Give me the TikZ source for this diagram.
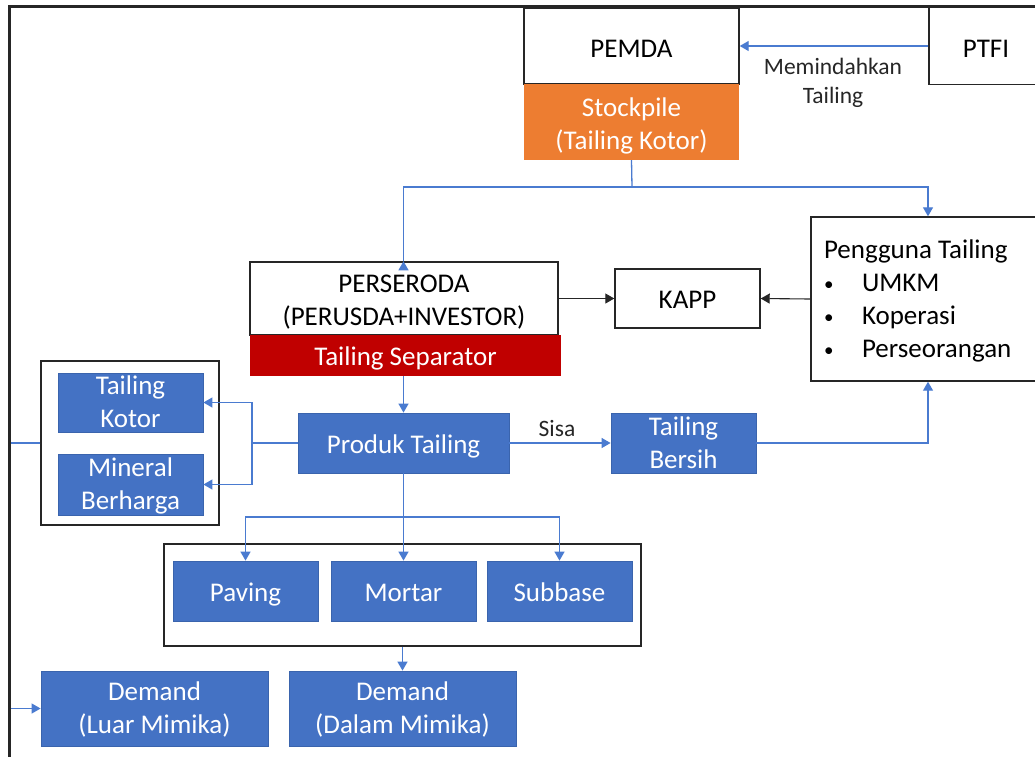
\documentclass[tikz,border=0pt]{standalone}
\usepackage{fontspec}
\setmainfont{Carlito}
\usetikzlibrary{arrows.meta}
\definecolor{boxblue}{HTML}{4472C4}
\definecolor{boxblueedge}{HTML}{3A64AD}
\definecolor{linkblue}{HTML}{4A7BD0}
\definecolor{pileorange}{HTML}{ED7D31}
\definecolor{seprred}{HTML}{C00000}
\definecolor{edgegray}{HTML}{262626}
% box text: lines stacked in a tabular, set at a fixed drop below the box centre
% and taking no height of its own, so the box keeps its size
\newcommand{\ctext}[2][10pt]{\smash{\raisebox{-#1}{\begin{tabular}{@{}c@{}}#2\end{tabular}}}}
\newcommand{\ltext}[2][9pt]{\smash{\raisebox{-#1}{\begin{tabular}{@{}l@{}}#2\end{tabular}}}}
\tikzset{
  base/.style={rectangle, inner sep=0pt, font=\fontsize{27}{33}\selectfont},
  whitebox/.style={base, draw=edgegray, line width=1.4pt, fill=white, text=black},
  bluebox/.style={base, draw=boxblueedge, line width=0.8pt, fill=boxblue, text=white},
  groupbox/.style={rectangle, draw=edgegray, line width=1.4pt, inner sep=0pt},
  link/.style={draw=linkblue, line width=1.3pt, -{Triangle[length=9pt,width=10pt]}},
  plainlink/.style={draw=linkblue, line width=1.3pt},
  blacklink/.style={draw=edgegray, line width=1.1pt, -{Triangle[length=9pt,width=10pt]}},
  note/.style={align=center, font=\fontsize{23.5}{29}\selectfont, text=black!85}
}
\newcommand{\bulletitem}[1]{\makebox[38pt][l]{\raisebox{1pt}{\fontsize{19}{19}\selectfont\textbullet}}#1}
\begin{document}
\begin{tikzpicture}[x=1pt, y=-1pt]
\useasboundingbox (0,0) rectangle (1035,756);

% upper row: government, mine operator and the stockpile
\node[whitebox, minimum width=215pt, minimum height=76pt] (pemda) at (631.5,46) {\ctext[11pt]{PEMDA}};
\node[base, fill=pileorange, text=white, minimum width=215pt, minimum height=76pt] (stockpile) at (631.5,122) {\ctext[11pt]{Stockpile\\(Tailing Kotor)}};
\node[whitebox, minimum width=114pt, minimum height=77pt] (ptfi) at (986,46) {\ctext[11pt]{PTFI}};
\node[note] (movelabel) at (833,83) {Memindahkan\\Tailing};

% processing company with its separator
\node[whitebox, minimum width=308pt, minimum height=73pt] (perseroda) at (404,298.5) {\ctext{PERSERODA\\(PERUSDA+INVESTOR)}};
\node[base, fill=seprred, text=white, minimum width=311pt, minimum height=41pt] (separator) at (405.5,355.5) {\ctext{Tailing Separator}};
\node[whitebox, minimum width=145pt, minimum height=59pt] (kapp) at (687.5,298.5) {\ctext{KAPP}};
\node[whitebox, minimum width=234pt, minimum height=164pt] (pengguna) at (928,299)
  {\makebox[208pt][l]{\ltext{Pengguna Tailing\\\bulletitem{UMKM}\\\bulletitem{Koperasi}\\\bulletitem{Perseorangan}}}};

% products
\node[bluebox, minimum width=211pt, minimum height=60pt] (produk) at (403.5,443) {\ctext{Produk Tailing}};
\node[bluebox, minimum width=145pt, minimum height=60pt] (bersih) at (683.5,443) {\ctext[9pt]{Tailing\\Bersih}};
\node[note] (sisa) at (557,428) {Sisa};

\node[groupbox, minimum width=178pt, minimum height=164pt] (sidegroup) at (130,443) {};
\node[bluebox, minimum width=145pt, minimum height=59pt] (kotor) at (130.5,402.5) {\ctext[8.5pt]{Tailing\\Kotor}};
\node[bluebox, minimum width=145pt, minimum height=61pt] (mineral) at (130.5,484.5) {\ctext[8.5pt]{Mineral\\Berharga}};

\node[groupbox, minimum width=477pt, minimum height=102pt] (usegroup) at (402.5,595) {};
\node[bluebox, minimum width=145pt, minimum height=60pt] (paving) at (245.5,591) {\ctext{Paving}};
\node[bluebox, minimum width=145pt, minimum height=60pt] (mortar) at (403.5,591) {\ctext{Mortar}};
\node[bluebox, minimum width=145pt, minimum height=60pt] (subbase) at (559.5,591) {\ctext{Subbase}};

\node[bluebox, minimum width=227pt, minimum height=75pt] (luar) at (154.5,708.5) {\ctext[8pt]{Demand\\(Luar Mimika)}};
\node[bluebox, minimum width=227pt, minimum height=75pt] (dalam) at (402.5,708.5) {\ctext[8pt]{Demand\\(Dalam Mimika)}};

% junction points
\coordinate (split) at (632,187);
\coordinate (sidefork) at (252,443);
\coordinate (usefork) at (403.5,517);
\coordinate (edgedrop) at (10,443);

% connectors
\draw[link] (ptfi.west) -- (pemda.east);
\draw[plainlink] (stockpile.south) -- (split);
\draw[link] (split) -| (perseroda.north -| 403.5,0) -- (perseroda.north -| 403.5,0);
\draw[link] (split) -| (pengguna.north);
\draw[blacklink] (perseroda.east) -- (kapp.west);
\draw[blacklink] (pengguna.west) -- (kapp.east);
\draw[link] (separator.south -| produk.north) -- (produk.north);
\draw[plainlink] (produk.west) -- (sidefork);
\draw[link] (sidefork) |- (kotor.east);
\draw[link] (sidefork) |- (mineral.east);
\draw[link] (produk.east) -- (bersih.west);
\draw[link] (bersih.east) -| (pengguna.south);
\draw[plainlink] (produk.south) -- (usefork);
\draw[link] (usefork) -| (paving.north);
\draw[link] (usefork) -- (mortar.north);
\draw[link] (usefork) -| (subbase.north);
\draw[link] (usegroup.south -| dalam.north) -- (dalam.north);
\draw[plainlink] (sidegroup.west) -- (edgedrop);
\draw[link] (edgedrop) |- (luar.west);

% page frame along the top and left edges
\draw[black!85, line width=3pt] (1040,6.5) -- (9.5,6.5) -- (9.5,760);
\end{tikzpicture}
\end{document}
